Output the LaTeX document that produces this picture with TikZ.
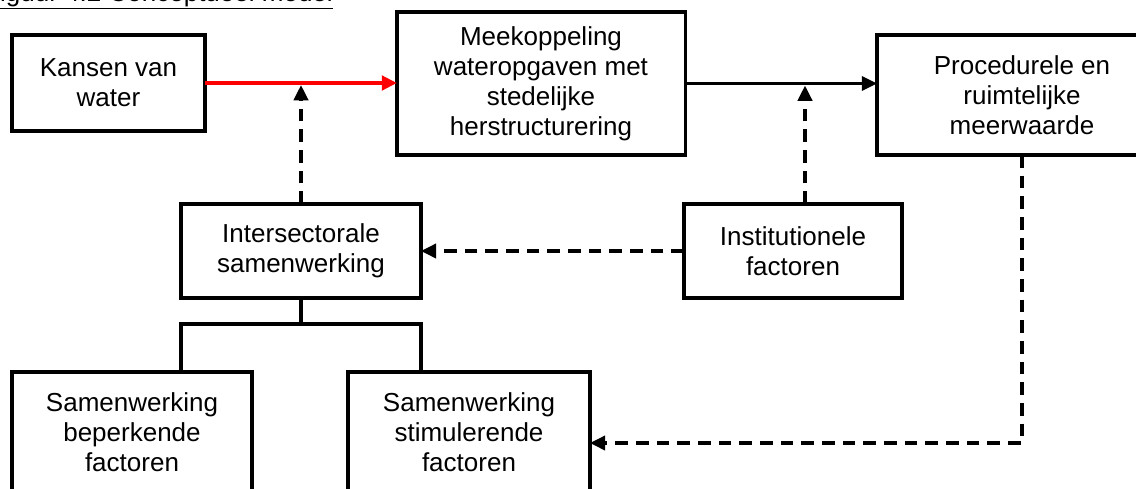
\documentclass[tikz,border=0pt]{standalone}
\usepackage{fontspec}
\setmainfont{Liberation Sans}
\usepackage{tikz}
\usetikzlibrary{arrows.meta}
\usetikzlibrary{positioning}
\usetikzlibrary{calc}

\begin{document}
\begin{tikzpicture}
    [
    x=0.025cm, y=-0.025cm, font=\fontsize{18.5}{21.3}\selectfont,
    >={Triangle[length=0.38cm,width=0.36cm]}
    %Voreinstellung für Kästen und Pfeile
    ,kader/.style={draw, line width=2.2pt, align=center, inner sep=0pt, outer sep=0pt},
    pijl/.style={->, line width=2pt},
    stippel/.style={->, line width=2.2pt, dash pattern=on 9pt off 5.7pt},
    tak/.style={line width=2.2pt}
    ]
    
    %Rand
    \useasboundingbox (0,0) rectangle (1136,488);
    
    %Titel
    \node[anchor=base west, inner sep=0pt] (titel) at (-16,1) {\underline{Figuur 4.2 Conceptueel model}};
    
    %Kästen oben
    \node[kader, minimum width=4.825cm, minimum height=2.4cm] (kansen) at (108.5,83) {Kansen van\\water};
    \node[kader, minimum width=7.2cm, minimum height=3.575cm] (meek) at (541,83.5) {Meekoppeling\\wateropgaven met\\stedelijke\\herstructurering};
    \node[kader, minimum width=7.25cm, minimum height=3cm] (proc) at (1022,95) {Procedurele en\\ruimtelijke\\meerwaarde};
    
    %Kästen Mitte
    \node[kader, minimum width=6cm, minimum height=2.35cm] (inter) at (301,251) {Intersectorale\\samenwerking};
    \node[kader, minimum width=5.45cm, minimum height=2.35cm] (inst) at (793,251) {Institutionele\\factoren};
    
    %Kästen unten
    \node[kader, minimum width=6cm, minimum height=3cm] (beperk) at (132,432) {Samenwerking\\beperkende\\factoren};
    \node[kader, minimum width=6.05cm, minimum height=3cm] (stimul) at (469,432) {Samenwerking\\stimulerende\\factoren};
    
    %Hauptpfeile
    \draw[pijl, red, line width=2.9pt] (kansen.east) -- (kansen.east -| meek.west);
    \draw[pijl] (meek.east) -- (meek.east -| proc.west);
    
    %gestrichelte Pfeile
    \draw[stippel, shorten >=1.5pt] (inter.north) -- (inter.north |- kansen.east);
    \draw[stippel, shorten >=1.5pt] ([xshift=0.3cm]inst.north) -- ([xshift=0.3cm]inst.north |- meek.east);
    \draw[stippel] (inst.west) -- (inter.east);
    \draw[stippel] (proc.south) |- ([yshift=-0.275cm]stimul.east);
    
    %Verzweigung
    \draw[tak] (inter.south) -- ++(0,26) -| (beperk.north -| inter.south west);
    \draw[tak] (inter.south) -- ++(0,26) -| (stimul.north -| inter.south east);
\end{tikzpicture}
\end{document}
